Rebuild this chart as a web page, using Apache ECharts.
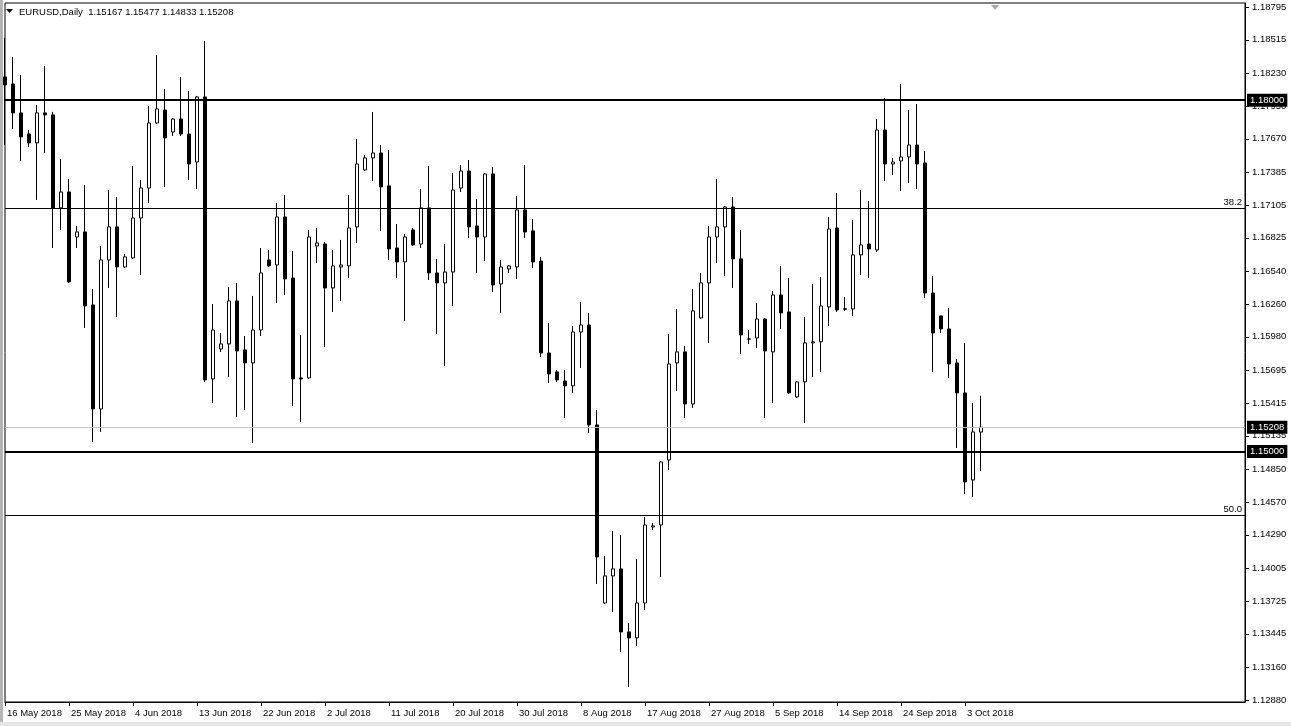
<!DOCTYPE html>
<html>
<head>
<meta charset="utf-8">
<script src="https://cdn.jsdelivr.net/npm/echarts@6/dist/echarts.min.js"></script>
<style>
html,body{margin:0;padding:0;background:#fff;}
#chart{width:1291px;height:726px;}
</style>
</head>
<body>
<div id="chart"></div>
<script>
// ---- data (EURUSD Daily) ----
const symbolTitle = 'EURUSD,Daily';
const lastOHLC = '1.15167 1.15477 1.14833 1.15208';
const firstDate = '2018-05-16';
const totalSlots = 156; // bars + empty chart-shift space

const openV = [1.18198,1.18138,1.17891,1.17711,1.17635,1.17891,1.17874,1.17080,1.17216,1.16832,
1.16875,1.16252,1.15364,1.16636,1.16918,1.16576,1.16653,1.16994,1.17250,1.17805,
1.17916,1.17728,1.17839,1.17711,1.17472,1.18027,1.15620,1.15876,1.15919,1.16286,
1.15868,1.15757,1.16038,1.16636,1.16593,1.17003,1.16482,1.15629,1.15629,1.16755,
1.16772,1.16397,1.16576,1.16585,1.16918,1.17404,1.17507,1.17549,1.17268,1.16738,
1.16619,1.16892,1.16772,1.17080,1.16525,1.16440,1.16533,1.17250,1.17395,1.16926,
1.16832,1.17370,1.16431,1.16559,1.16576,1.17063,1.16884,1.16627,1.15842,1.15680,
1.15603,1.15561,1.16021,1.16081,1.15228,1.13708,1.13939,1.13999,1.13461,1.13410,
1.13708,1.14357,1.14374,1.14929,1.15757,1.15851,1.15407,1.16141,1.16440,1.16832,
1.16918,1.17088,1.16645,1.15962,1.15970,1.16132,1.15851,1.16337,1.16192,1.15467,
1.15595,1.15928,1.15937,1.16235,1.16909,1.16214,1.16218,1.16679,1.16772,1.16721,
1.17745,1.17455,1.17481,1.17515,1.17617,1.17464,1.16354,1.16158,1.16047,1.15757,
1.15501,1.14758,1.15167];
const highV = [1.18531,1.18369,1.18215,1.17745,1.17959,1.18292,1.17900,1.17498,1.17327,1.16926,
1.17276,1.16388,1.16755,1.17233,1.17174,1.16687,1.17438,1.17319,1.17950,1.18386,
1.18095,1.17848,1.18198,1.18078,1.18036,1.18505,1.16260,1.16013,1.16405,1.16440,
1.15987,1.16329,1.16738,1.16721,1.17122,1.17191,1.16713,1.15996,1.16892,1.16909,
1.16789,1.16721,1.16807,1.17191,1.17669,1.17532,1.17899,1.17617,1.17575,1.16943,
1.16858,1.16909,1.17242,1.17438,1.16645,1.16772,1.17378,1.17447,1.17489,1.17157,
1.17378,1.17430,1.16636,1.16593,1.17182,1.17447,1.16986,1.16662,1.16098,1.15697,
1.15697,1.16073,1.16277,1.16184,1.15356,1.14110,1.14323,1.14289,1.13538,1.14084,
1.14442,1.14391,1.14920,1.16004,1.16218,1.15902,1.16388,1.16525,1.16926,1.17327,
1.17097,1.17174,1.16892,1.16038,1.16269,1.16140,1.16371,1.16585,1.16482,1.15603,
1.16149,1.16431,1.16491,1.17003,1.17208,1.16320,1.16977,1.17233,1.17139,1.17839,
1.18019,1.17507,1.18138,1.17916,1.17967,1.17566,1.16499,1.16160,1.16226,1.15791,
1.15928,1.15415,1.15477];
const lowV = [1.17617,1.17754,1.17481,1.17600,1.17148,1.17549,1.16738,1.16892,1.16440,1.16738,
1.16056,1.15083,1.15168,1.16397,1.16149,1.16568,1.16645,1.16508,1.17122,1.17797,
1.17259,1.17694,1.17694,1.17319,1.17242,1.15595,1.15415,1.15851,1.15637,1.15296,
1.15356,1.15074,1.15987,1.16576,1.16269,1.16337,1.15390,1.15253,1.15620,1.16610,
1.15893,1.16192,1.16286,1.16482,1.16781,1.17395,1.17310,1.16883,1.16636,1.16482,
1.16115,1.16755,1.16738,1.16465,1.16004,1.15731,1.16243,1.17216,1.16824,1.16525,
1.16627,1.16363,1.16184,1.16525,1.16474,1.16824,1.16568,1.15808,1.15586,1.15595,
1.15287,1.15501,1.15714,1.15159,1.13871,1.13700,1.13632,1.13290,1.12991,1.13341,
1.13649,1.14332,1.13930,1.14844,1.15518,1.15287,1.15373,1.16135,1.15928,1.16610,
1.16499,1.16397,1.15834,1.15919,1.15885,1.15287,1.15415,1.16047,1.15492,1.15458,
1.15245,1.15637,1.15680,1.16073,1.16192,1.16201,1.16158,1.16508,1.16482,1.16704,
1.17310,1.17361,1.17225,1.17293,1.17242,1.16312,1.15680,1.16013,1.15629,1.15031,
1.14639,1.14613,1.14833];
const closeV = [1.18130,1.17891,1.17686,1.17635,1.17891,1.17874,1.17080,1.17216,1.16448,1.16875,
1.16243,1.15364,1.16636,1.16918,1.16576,1.16662,1.16994,1.17250,1.17805,1.17925,
1.17677,1.17839,1.17711,1.17455,1.18027,1.15612,1.16038,1.15919,1.16286,1.15859,
1.15757,1.16038,1.16525,1.16585,1.17003,1.16474,1.15620,1.15620,1.16832,1.16781,
1.16397,1.16585,1.16593,1.16909,1.17455,1.17507,1.17549,1.17259,1.16730,1.16619,
1.16832,1.16764,1.17080,1.16525,1.16440,1.16533,1.17233,1.17395,1.16918,1.16832,
1.17370,1.16423,1.16576,1.16585,1.17063,1.16875,1.16619,1.15842,1.15663,1.15612,
1.15561,1.16021,1.16081,1.15228,1.14101,1.13939,1.13999,1.13461,1.13410,1.13708,
1.14374,1.14366,1.14912,1.15748,1.15851,1.15407,1.16201,1.16440,1.16832,1.16918,
1.17088,1.16645,1.15996,1.15960,1.16132,1.15859,1.16337,1.16184,1.15501,1.15595,
1.15928,1.15937,1.16243,1.16900,1.16209,1.16220,1.16679,1.16764,1.16730,1.17745,
1.17455,1.17472,1.17515,1.17617,1.17455,1.16354,1.16013,1.16047,1.15748,1.15501,
1.14741,1.15168,1.15208];

const priceTicks = [1.18795,1.18515,1.18230,1.17950,1.17670,1.17385,1.17105,1.16825,1.16540,1.16260,
1.15980,1.15695,1.15415,1.15135,1.14850,1.14570,1.14290,1.14005,1.13725,1.13445,1.13160,1.12880];
const priceMin = 1.12863, priceMax = 1.18829;
const boldLevels = [1.18000, 1.15000];
const fibLevels = [1.17080, 1.14460];
const fibNames = ['38.2', '50.0'];
const currentPrice = 1.15208;

// ---- categories: daily bars incl. Sunday sessions (no Saturdays) ----
const months = ['Jan','Feb','Mar','Apr','May','Jun','Jul','Aug','Sep','Oct','Nov','Dec'];
const categories = [];
{
  let d = new Date(firstDate + 'T00:00:00Z');
  while (categories.length < openV.length) {
    if (d.getUTCDay() !== 6) categories.push(d.getUTCDate() + ' ' + months[d.getUTCMonth()] + ' ' + d.getUTCFullYear());
    d = new Date(d.getTime() + 86400000);
  }
  while (categories.length < totalSlots) categories.push('');
}
const candles = openV.map((o, i) => [o, closeV[i], lowV[i], highV[i]]);

const FONT = 'Liberation Sans';
const FS = 9.5;
const chart = echarts.init(document.getElementById('chart'), null, {renderer: 'canvas'});

const boxLabel = {
  show: true, position: 'end', distance: 2,
  formatter: p => Number(p.value).toFixed(5),
  backgroundColor: '#000', color: '#fff', padding: [2, 3, 1, 3],
  fontFamily: FONT, fontSize: FS
};

const markData = [];
markData.push({yAxis: currentPrice, lineStyle: {color: '#c0c0c0', width: 1, type: 'solid'}, label: boxLabel});
boldLevels.forEach(v => markData.push({yAxis: v, lineStyle: {color: '#000', width: 2, type: 'solid'}, label: boxLabel}));
fibLevels.forEach((v, i) => markData.push({yAxis: v, lineStyle: {color: '#000', width: 1, type: 'solid'},
  label: {show: true, position: 'insideEndTop', distance: 1, formatter: fibNames[i], color: '#000', fontFamily: FONT, fontSize: FS, padding: [0, 2, 0, 0]}}));

chart.setOption({
  animation: false,
  backgroundColor: '#fff',
  grid: {left: 5, right: 46, top: 3, bottom: 24, show: true, borderColor: '#000', borderWidth: 1, backgroundColor: '#fff'},
  xAxis: {
    type: 'category', data: categories, boundaryGap: false,
    axisLine: {show: true, lineStyle: {color: '#000', width: 1}},
    axisTick: {show: true, length: 4, interval: (i, v) => i % 8 === 0 && v !== '', lineStyle: {color: '#000'}},
    axisLabel: {show: true, interval: (i, v) => i % 8 === 0 && v !== '', align: 'left', margin: 6, padding: [0, 0, 0, 2],
      color: '#000', fontFamily: FONT, fontSize: FS},
    splitLine: {show: false}
  },
  yAxis: {
    type: 'value', position: 'right', min: priceMin, max: priceMax, scale: true,
    axisLine: {show: true, lineStyle: {color: '#000', width: 1}},
    axisTick: {show: true, length: 4, customValues: priceTicks, lineStyle: {color: '#000'}},
    axisLabel: {show: true, customValues: priceTicks, margin: 7, formatter: v => v.toFixed(5),
      color: '#000', fontFamily: FONT, fontSize: FS},
    splitLine: {show: false}
  },
  series: [{
    type: 'candlestick', data: candles, barWidth: 4, clip: true,
    itemStyle: {color: '#fff', color0: '#000', borderColor: '#000', borderColor0: '#000', borderColorDoji: '#000', borderWidth: 1},
    markLine: {silent: true, precision: 5, symbol: ['none', 'none'], animation: false, data: markData}
  }],
  graphic: [
    {type: 'rect', shape: {x: 0, y: 0, width: 3, height: 726}, style: {fill: '#b4b4b4'}, z: 100},
    {type: 'rect', shape: {x: 0, y: 722, width: 1291, height: 4}, style: {fill: '#e6e6e6'}, z: 100},
    {type: 'polygon', shape: {points: [[6, 9], [13, 9], [9.5, 13]]}, style: {fill: '#000'}, z: 100},
    {type: 'text', x: 19, y: 12, style: {text: symbolTitle + '  ' + lastOHLC, fill: '#000', font: FS + 'px "' + FONT + '"', verticalAlign: 'middle'}, z: 100},
    {type: 'polygon', shape: {points: [[991, 5], [999, 5], [995, 10]]}, style: {fill: '#a8a8a8'}, z: 100}
  ]
});
</script>
</body>
</html>
